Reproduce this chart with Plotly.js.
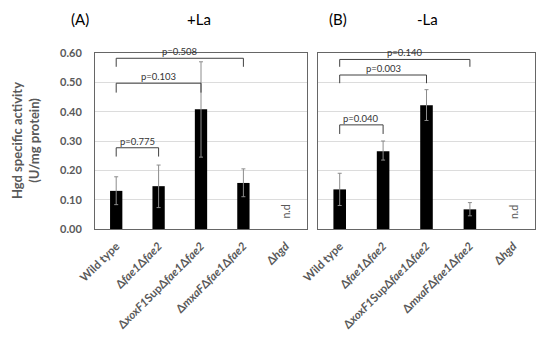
<!DOCTYPE html>
<html><head><meta charset="utf-8">
<script src="https://cdn.plot.ly/plotly-3.0.1.min.js"></script>
<style>html,body{margin:0;padding:0;background:#fff}#chart{width:550px;height:338px}</style>
</head><body><div id="chart"></div>
<script>
const categories = ['Wild type', 'Δ<i>fae1</i>Δ<i>fae2</i>', 'Δ<i>xoxF1</i>SupΔ<i>fae1</i>Δ<i>fae2</i>', 'Δ<i>mxaF</i>Δ<i>fae1</i>Δ<i>fae2</i>', 'Δ<i>hgd</i>'];
// +La panel (A)
const plusLaMean = [0.130, 0.146, 0.408, 0.157, null];
const plusLaErrUp = [0.048, 0.072, 0.162, 0.048, null];
const plusLaErrDown = [0.047, 0.073, 0.163, 0.047, null];
// -La panel (B)
const minusLaMean = [0.135, 0.265, 0.422, 0.067, null];
const minusLaErrUp = [0.055, 0.035, 0.053, 0.023, null];
const minusLaErrDown = [0.055, 0.030, 0.052, 0.022, null];
const ndIndex = 4;
const ndLabel = 'n.d';
// significance brackets: [from index, to index, top y, tick bottom y, label]
const plusLaBrackets = [
  [0, 3, 0.582, 0.553, 'p=0.508'],
  [0, 2, 0.497, 0.465, 'p=0.103'],
  [0, 1, 0.277, 0.247, 'p=0.775']
];
const minusLaBrackets = [
  [0, 3, 0.578, 0.553, 'p=0.140'],
  [0, 2, 0.525, 0.497, 'p=0.003'],
  [0, 1, 0.355, 0.324, 'p=0.040']
];
const panelTitles = [['(A)', '+La'], ['(B)', '-La']];
const yTitle = 'Hgd specific activity<br>(U/mg protein)';

const idx = categories.map((_, i) => i);
const gray = '#595959';
const FONT = 'Lato, "Open Sans", sans-serif';
const W = 550, H = 338, T = 53, B = 109;
const py = px => (H - B - px) / (H - T - B); // pixel row -> paper y
const pxX = px => px / W;

function barTrace(mean, up, down, xa, ya) {
  return {
    type: 'bar', x: idx, y: mean, xaxis: xa, yaxis: ya, width: 0.29,
    marker: {color: '#000000'},
    error_y: {type: 'data', symmetric: false, array: up, arrayminus: down,
      color: '#8c8c8c', thickness: 1, width: 2},
    showlegend: false, hoverinfo: 'skip'
  };
}
function bracketTraces(brs, xa, ya) {
  return brs.map(b => ({
    type: 'scatter', mode: 'lines', xaxis: xa, yaxis: ya,
    x: [b[0], b[0], b[1], b[1]], y: [b[3], b[2], b[2], b[3]],
    line: {color: '#404040', width: 1}, showlegend: false, hoverinfo: 'skip', cliponaxis: false
  }));
}
function bracketLabels(brs, xa, ya) {
  return brs.map(b => ({
    x: (b[0] + b[1]) / 2, y: b[2], xref: xa, yref: ya, text: b[4], showarrow: false,
    xanchor: 'center', yanchor: 'bottom', yshift: -1, font: {family: FONT, size: 9.5, color: '#333'}
  }));
}

const data = [
  barTrace(plusLaMean, plusLaErrUp, plusLaErrDown, 'x', 'y'),
  barTrace(minusLaMean, minusLaErrUp, minusLaErrDown, 'x2', 'y2'),
  ...bracketTraces(plusLaBrackets, 'x', 'y'),
  ...bracketTraces(minusLaBrackets, 'x2', 'y2')
];

const xaxisBase = {
  range: [-0.5, 4.5], tickvals: idx, ticktext: categories, tickangle: -45,
  showline: true, mirror: true, linecolor: '#666666', linewidth: 1,
  showgrid: false, zeroline: false, ticks: '', ticklabelstandoff: 5,
  tickfont: {family: FONT, size: 11.5, color: gray, weight: 'bold'}
};
const yaxisBase = {
  range: [0, 0.6], dtick: 0.1, tickformat: '.2f',
  showline: true, mirror: true, linecolor: '#666666', linewidth: 1,
  showgrid: true, gridcolor: '#dcdcdc', gridwidth: 1, zeroline: false, ticks: '',
  tickfont: {family: FONT, size: 11, color: gray, weight: 'bold'}
};

function paperText(x, y, text, size, color, weight, angle) {
  return {x: pxX(x), y: py(y), xref: 'paper', yref: 'paper', text: text, showarrow: false,
    xanchor: 'center', yanchor: 'middle', textangle: angle || 0,
    font: {family: FONT, size: size, color: color, weight: weight || 'normal'}};
}

const annotations = [
  ...bracketLabels(plusLaBrackets, 'x', 'y'),
  ...bracketLabels(minusLaBrackets, 'x2', 'y2'),
  {x: ndIndex, y: 0.059, xref: 'x', yref: 'y', text: ndLabel, textangle: -90, showarrow: false,
   xanchor: 'center', font: {family: FONT, size: 10.5, color: gray}},
  {x: ndIndex, y: 0.059, xref: 'x2', yref: 'y2', text: ndLabel, textangle: -90, showarrow: false,
   xanchor: 'center', font: {family: FONT, size: 10.5, color: gray}},
  paperText(80, 19, panelTitles[0][0], 15, '#000'),
  paperText(199, 19, panelTitles[0][1], 15, '#000'),
  paperText(338, 19, panelTitles[1][0], 15, '#000'),
  paperText(427, 19, panelTitles[1][1], 15, '#000'),
  paperText(25, 141, yTitle, 13, gray, 'bold', -90)
];

const layout = {
  width: W, height: H,
  margin: {l: 0, r: 0, t: T, b: B},
  paper_bgcolor: '#fff', plot_bgcolor: '#fff',
  xaxis: Object.assign({}, xaxisBase, {domain: [pxX(95), pxX(307)], anchor: 'y'}),
  yaxis: Object.assign({}, yaxisBase, {anchor: 'x', ticklabelstandoff: 10}),
  xaxis2: Object.assign({}, xaxisBase, {domain: [pxX(318), pxX(535)], anchor: 'y2'}),
  yaxis2: Object.assign({}, yaxisBase, {anchor: 'x2', showticklabels: false}),
  annotations: annotations,
  showlegend: false
};

Plotly.newPlot('chart', data, layout, {displayModeBar: false, staticPlot: true});
</script></body></html>
